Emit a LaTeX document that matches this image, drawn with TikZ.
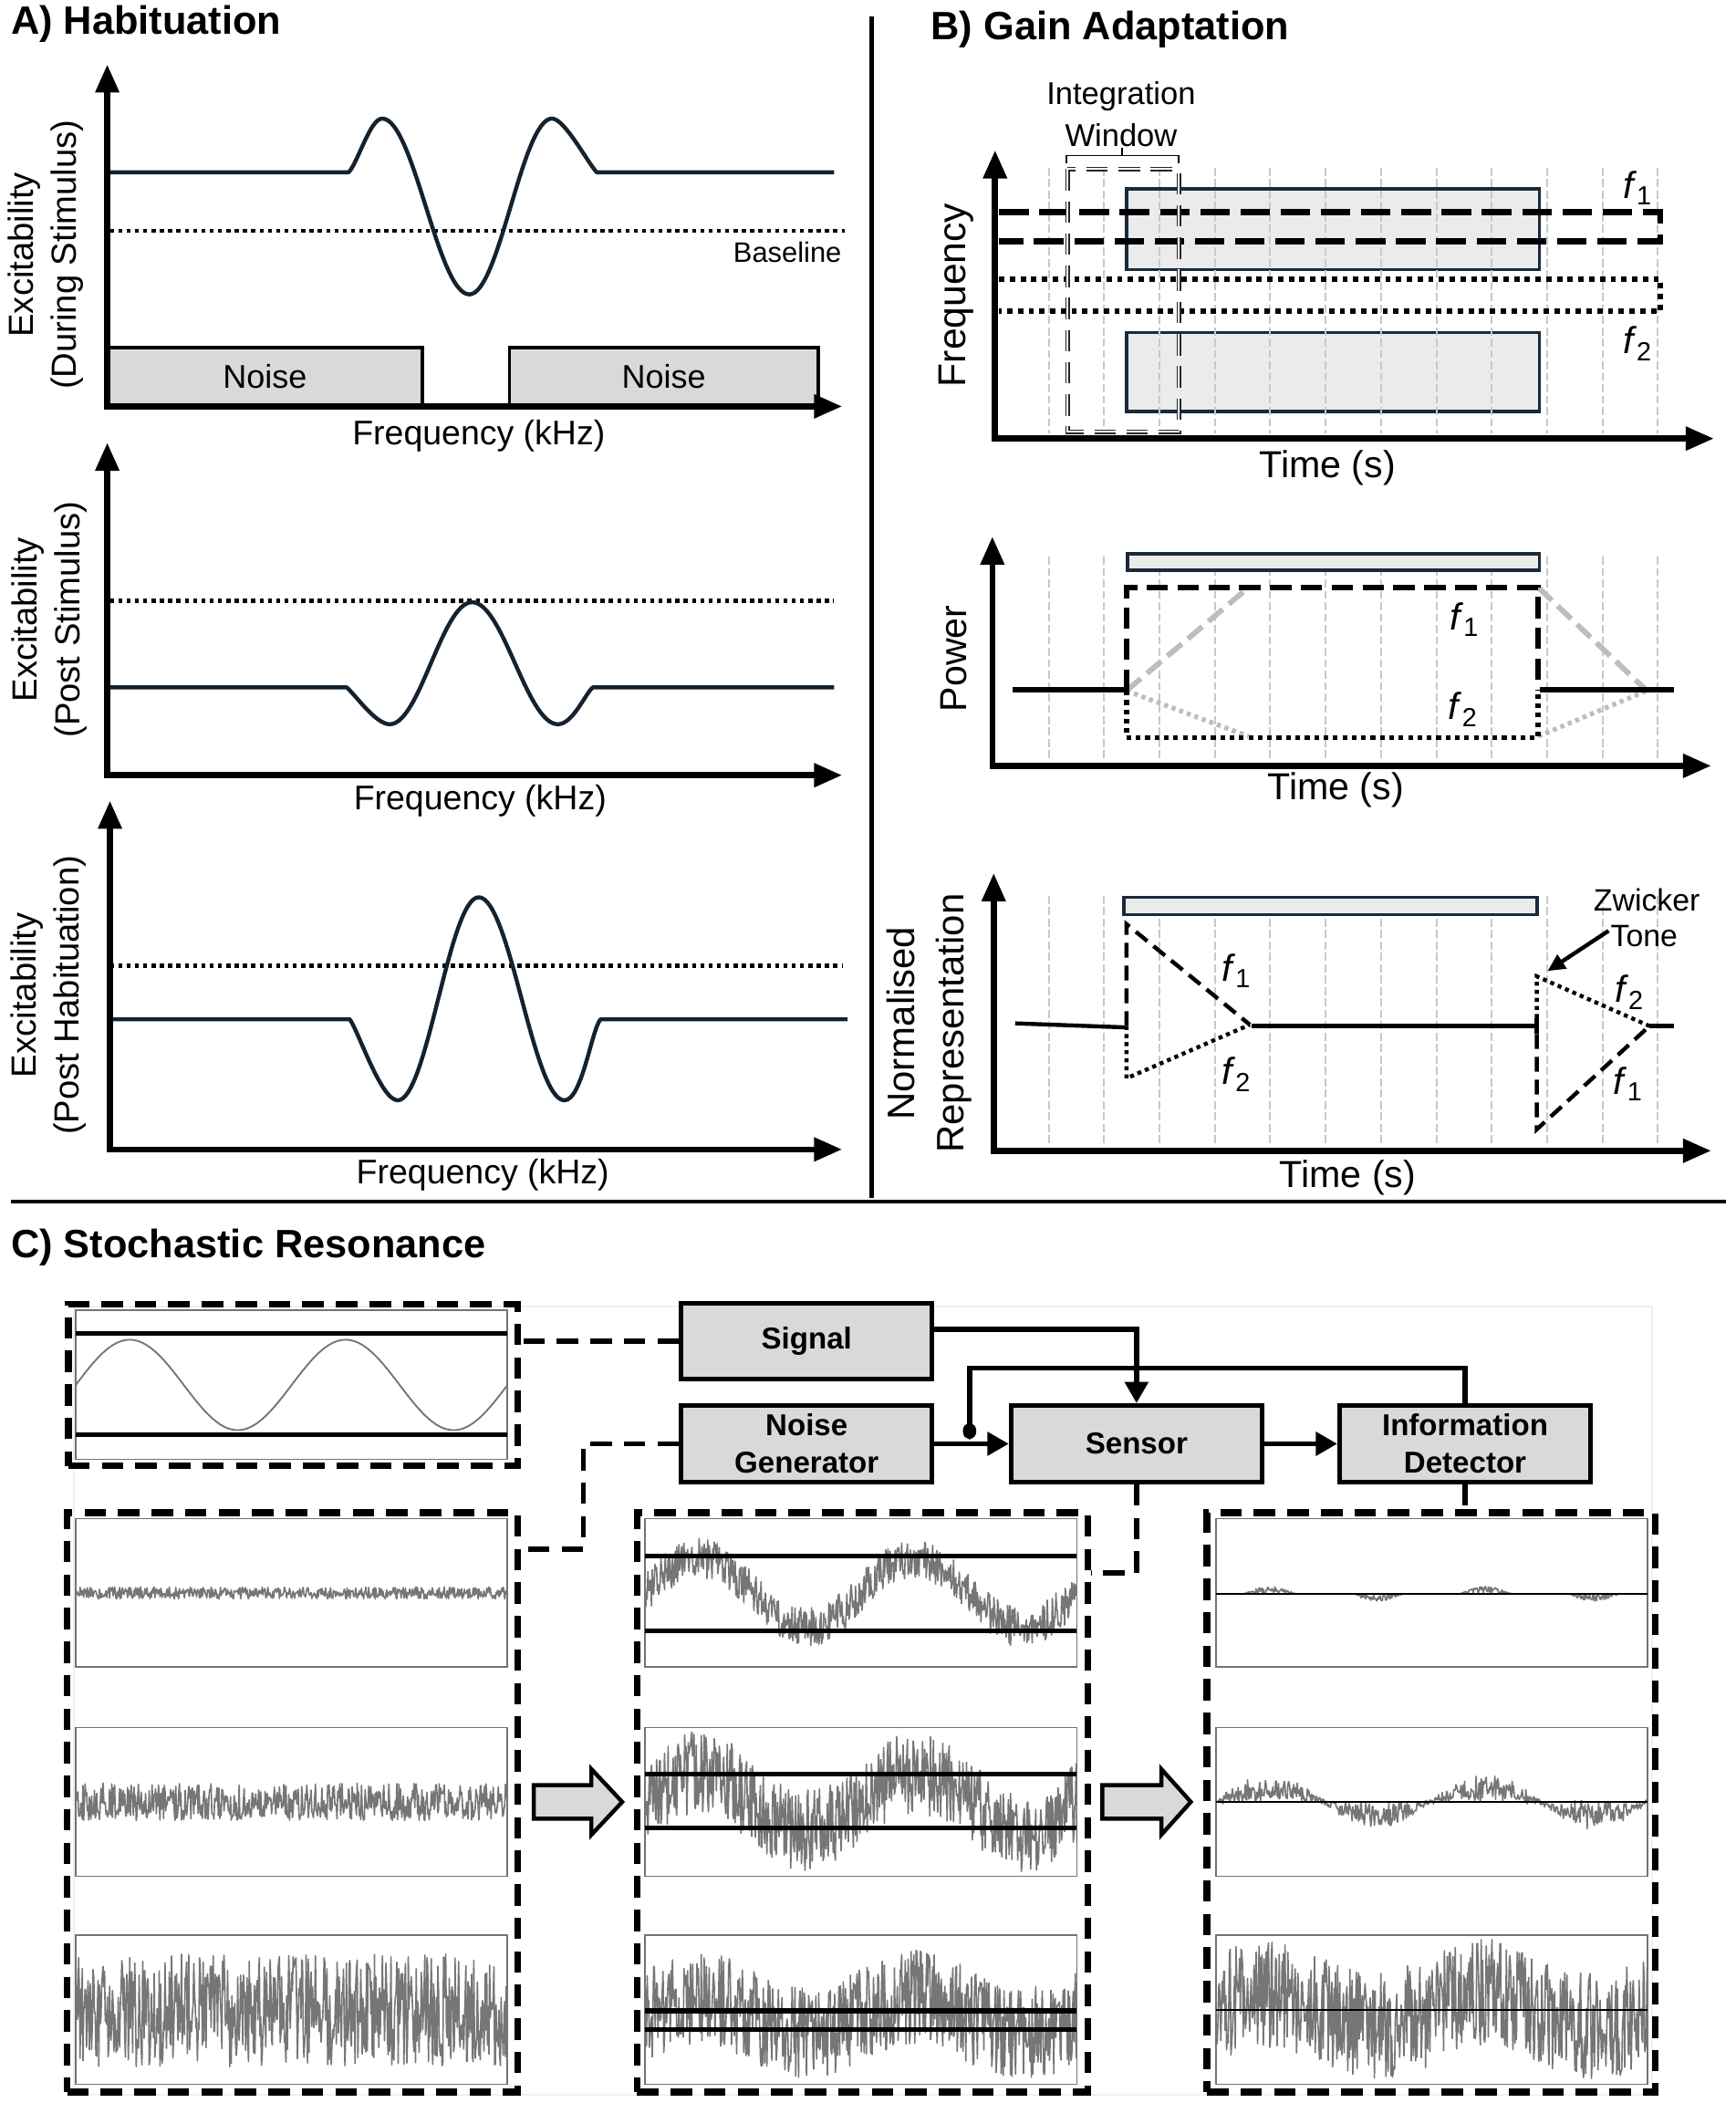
\documentclass[tikz,border=0pt]{standalone}
\usepackage{fontspec}
\setmainfont{Liberation Sans}
\usetikzlibrary{arrows.meta,calc}
\definecolor{curvecol}{HTML}{142230}
\definecolor{bedge}{HTML}{1B2A3A}
\definecolor{bfill}{HTML}{EBEBEB}
\definecolor{nfill}{HTML}{D9D9D9}
\definecolor{gridcol}{HTML}{C8C8C8}
\definecolor{lgray}{HTML}{BDBDBD}
\definecolor{trace}{HTML}{767676}
\newcommand{\fz}[2]{\fontsize{#1}{#2}\selectfont}
\newcommand{\fl}[1]{\textit{f}\textsubscript{#1}}
\begin{document}
\begin{tikzpicture}[x=1pt,y=-1pt,
 declare function={sw(\t)=sin(2.23602*(\t));},
 axarrow/.style={line width=4.5pt, -{Triangle[length=21pt,width=17pt]}},
 curveA/.style={line width=3pt, draw=curvecol, line join=round},
 dotbase/.style={line width=3pt, dash pattern=on 3pt off 3.2pt},
 ylab/.style={rotate=90, align=center, font=\fz{26}{32}},
 xlab/.style={font=\fz{25.5}{30}},
 blab/.style={font=\fz{28}{36}},
 noisebox/.style={draw=black, line width=2.5pt, fill=nfill, inner sep=0pt, font=\fz{24.5}{28}},
 ttl/.style={anchor=west, font=\fz{29.5}{34}\bfseries, inner sep=0pt},
 gridln/.style={draw=gridcol, line width=1.4pt, dash pattern=on 6pt off 2.5pt},
 bbox/.style={draw=bedge, line width=2.5pt, fill=bfill},
 bdash/.style={line width=4.5pt, dash pattern=on 22pt off 8pt},
 bdot/.style={line width=4pt, dash pattern=on 4pt off 4pt},
 mdash/.style={line width=4pt, dash pattern=on 16pt off 7pt},
 mdot/.style={line width=4pt, dash pattern=on 3.5pt off 3.5pt},
 gdash/.style={draw=lgray, line width=4pt, dash pattern=on 14pt off 6pt},
 gdot/.style={draw=lgray, line width=3.5pt, dash pattern=on 3pt off 3pt},
 sdash/.style={line width=3pt, dash pattern=on 11pt off 6pt},
 sdot/.style={line width=3pt, dash pattern=on 3pt off 3pt},
 solidb/.style={line width=4pt},
 flab/.style={font=\fz{28}{32}},
 smalltxt/.style={font=\fz{23.5}{30}, align=center},
 cbox/.style={draw=black, line width=3.5pt, fill=nfill, align=center, inner sep=0pt, font=\fz{22.5}{28}\bfseries},
 dbox/.style={draw=black, line width=5pt, dash pattern=on 16pt off 9pt, inner sep=0pt},
 dconn/.style={line width=4pt, dash pattern=on 16pt off 9pt},
 conn/.style={line width=4pt},
 tipc/.style={-{Triangle[length=16pt,width=17pt]}},
 inrect/.style={draw=black!55, line width=1.2pt},
 thr/.style={line width=3.5pt},
 thrthin/.style={line width=1.6pt},
 tr/.style={draw=trace, line width=1.1pt, line join=round},
 barrow/.style={draw=black, line width=3pt, fill=nfill, line join=miter}
]
\useasboundingbox (0,0) rectangle (1294,1568);

% ---------------- dividers and titles
\draw[line width=3pt] (650,12) -- (650,893);
\draw[line width=3pt] (8,896) -- (1287,896);
\node[ttl] (tA) at (8,18) {A) Habituation};
\node[ttl] (tB) at (694,22) {B) Gain Adaptation};
\node[ttl] (tC) at (8,930) {C) Stochastic Resonance};

% ---------------- A1
\node[noisebox, minimum width=235, minimum height=44] (noiseL) at (197.5,281) {Noise};
\node[noisebox, minimum width=230, minimum height=44] (noiseR) at (495,281) {Noise};
\draw[dotbase] (82,172) -- (630,172);
\node[anchor=east, font=\fz{21}{24}] (basel) at (631,188) {Baseline};
\draw[curveA] (80,128.5) -- (260,128.5)
  .. controls (267,121) and (276,88.4) .. (285,88.4)
  .. controls (308.6,88.4) and (326.4,219.5) .. (350,219.5)
  .. controls (372.4,219.5) and (389.2,88.4) .. (411.6,88.4)
  .. controls (421,88.4) and (438,121) .. (445,128.5) -- (622,128.5);
\draw[axarrow] (80,303) -- (80,48);
\draw[axarrow] (77.75,303) -- (628,303);
\node[ylab] (yA1) at (34,190) {Excitability\\(During Stimulus)};
\node[xlab] (xA1) at (357,325) {Frequency (kHz)};

% ---------------- A2
\draw[dotbase] (82,448) -- (622,448);
\draw[curveA] (80,512.5) -- (258.5,512.5)
  .. controls (265,518) and (280,540) .. (290.7,540)
  .. controls (313,540) and (329.7,449) .. (352,449)
  .. controls (375.3,449) and (392.7,540) .. (416,540)
  .. controls (427,540) and (436,518) .. (442,512.5) -- (622,512.5);
\draw[axarrow] (80,578) -- (80,330);
\draw[axarrow] (77.75,578) -- (628,578);
\node[ylab] (yA2) at (37,462) {Excitability\\(Post Stimulus)};
\node[xlab] (xA2) at (358,597) {Frequency (kHz)};

% ---------------- A3
\draw[dotbase] (82,720) -- (628,720);
\draw[curveA] (82,760) -- (260.8,760)
  .. controls (267,768) and (284,820.4) .. (296.6,820.4)
  .. controls (318.6,820.4) and (335,669) .. (357,669)
  .. controls (380.3,669) and (397.6,820.4) .. (420.9,820.4)
  .. controls (434,820.4) and (441,768) .. (447.8,760) -- (632,760);
\draw[axarrow] (82,857) -- (82,597);
\draw[axarrow] (79.75,857) -- (628,857);
\node[ylab] (yA3) at (36,742) {Excitability\\(Post Habituation)};
\node[xlab] (xA3) at (360,876) {Frequency (kHz)};

% ---------------- B1
\draw[bbox] (840,141) rectangle (1148,201);
\draw[bbox] (840,248) rectangle (1148,307);
\foreach \k in {0,...,11} \draw[gridln] ({782+41.3*\k},125) -- ({782+41.3*\k},323);
\draw[bdash] (745,158) -- (1238,158) -- (1238,180) -- (745,180);
\draw[bdot] (745,208) -- (1238,208) -- (1238,232) -- (745,232);
\draw[draw=black!85, line width=1.1pt, double=white, double distance=1.2pt, dash pattern=on 16pt off 8pt] (796,126) rectangle (879,322);
\draw[line width=1.3pt] (795,122) -- (795,116) -- (879,116) -- (879,122);
\draw[line width=1.3pt] (837,116) -- (837,110);
\node[smalltxt] (intg) at (836,72) {Integration};
\node[smalltxt] (wind) at (836,101) {Window};
\node[flab] (f1a) at (1221,140) {\fl{1}};
\node[flab] (f2a) at (1221,256) {\fl{2}};
\draw[axarrow] (742,327) -- (742,112);
\draw[axarrow] (739.75,327) -- (1278,327);
\node[blab, rotate=90, font=\fz{29}{34}] (yB1) at (713,220) {Frequency};
\node[blab] (xB1) at (990,349) {Time (s)};

% ---------------- B2
\foreach \k in {0,...,11} \draw[gridln] ({782+41.3*\k},415) -- ({782+41.3*\k},565);
\draw[gdash] (840,515) -- (931,438);
\draw[gdash] (1147,438) -- (1228,515);
\draw[gdot] (840,515) -- (931,549);
\draw[gdot] (1147,549) -- (1228,515);
\draw[mdash] (840,515) -- (840,438) -- (1147,438) -- (1147,515);
\draw[mdot] (840,515) -- (840,550) -- (1147,550) -- (1147,515);
\draw[solidb] (755,514) -- (838,514);
\draw[solidb] (1148,514) -- (1248,514);
\draw[bbox] (841,413) rectangle (1148,425);
\node[flab] (f1b) at (1092,462) {\fl{1}};
\node[flab] (f2b) at (1091,529) {\fl{2}};
\draw[axarrow] (740,571) -- (740,400);
\draw[axarrow] (737.75,571) -- (1276,571);
\node[blab, rotate=90] (yB2) at (711,491) {Power};
\node[blab] (xB2) at (996,589) {Time (s)};

% ---------------- B3
\foreach \k in {0,...,11} \draw[gridln] ({782+41.3*\k},668) -- ({782+41.3*\k},854);
\draw[bbox] (838,669) rectangle (1146,682);
\draw[line width=3pt] (757,763) -- (839,766);
\draw[line width=3pt] (933,765) -- (1146,765);
\draw[line width=3pt] (1146,759) -- (1146,771);
\draw[line width=3pt] (1230,765) -- (1248,765);
\draw[sdash] (840,765) -- (840,689) -- (932,764);
\draw[sdot] (840,765) -- (840,804) -- (932,764);
\draw[sdash] (1146,771) -- (1146,842) -- (1230,765);
\draw[sdot] (1146,759) -- (1146,728) -- (1230,765);
\node[flab] (f1c) at (922,724) {\fl{1}};
\node[flab] (f2c) at (922,801) {\fl{2}};
\node[flab] (f2d) at (1215,740) {\fl{2}};
\node[flab] (f1d) at (1214,808) {\fl{1}};
\node[font=\fz{23}{27}] (zw) at (1228,671) {Zwicker};
\node[font=\fz{23}{27}] (tone) at (1226,698) {Tone};
\coordinate (ztip) at (1154,724);
\draw[line width=3pt, -{Triangle[length=13pt,width=12pt]}] ([xshift=2pt,yshift=4pt]tone.west) -- (ztip);
\draw[axarrow] (741,858) -- (741,651);
\draw[axarrow] (738.75,858) -- (1276,858);
\node[ylab, font=\fz{28.5}{37}] (yB3) at (693,763) {Normalised\\Representation};
\node[blab] (xB3) at (1005,878) {Time (s)};

% ---------------- C
\draw[gray!12, line width=1pt] (55,974) rectangle (1232,1562);

% top-left signal box
\node[dbox, minimum width=335, minimum height=120.5] (sigbox) at (218.5,1032.75) {};
\draw[inrect] (56.5,977) rectangle (378,1088);
\draw[tr, line width=1.3pt, domain=56.5:378, samples=200] plot (\x, {1032.6-33.7*sw(\x-56.5)});
\draw[thr] (56.5,994.4) -- (378,994.4);
\draw[thr] (56.5,1069.7) -- (378,1069.7);

% block diagram
\node[cbox, minimum width=187, minimum height=56] (signal) at (601.5,1000) {Signal};
\node[cbox, minimum width=187, minimum height=57] (noisegen) at (601.5,1076.5) {Noise\\Generator};
\node[cbox, minimum width=187, minimum height=57] (sensor) at (847.5,1076.5) {Sensor};
\node[cbox, minimum width=187, minimum height=57] (detector) at (1092.5,1076.5) {Information\\Detector};

\draw[conn, tipc] ([yshift=9pt]signal.east) -| (sensor.north);
\draw[conn, tipc] (noisegen.east) -- (sensor.west);
\draw[conn, tipc] (sensor.east) -- (detector.west);
\coordinate (fbk) at (723,1020);
\coordinate (fbdot) at (723,1073);
\draw[conn, -{Circle[length=12pt,width=10pt]}] (detector.north) |- (fbk) -- (fbdot);

% big dashed boxes
\node[dbox, minimum width=336, minimum height=432] (leftbox) at (218,1343.85) {};
\node[dbox, minimum width=336, minimum height=432] (midbox) at (643,1343.85) {};
\node[dbox, minimum width=334.5, minimum height=432] (rightbox) at (1067.25,1343.85) {};

% dashed connectors
\draw[dconn] (signal.west) -- (signal.west -| sigbox.east);
\coordinate (nk) at (435,1155);
\draw[dconn] (noisegen.west) -| (nk) -- (nk -| leftbox.east);
\coordinate (mk) at (847.5,1173);
\draw[dconn] (sensor.south) -- (mk) -- (mk -| midbox.east);
\draw[dconn] (detector.south) -- (detector.south |- rightbox.north);

% inner rectangles
\foreach \xa/\xb in {56.5/378, 481/803, 906.6/1228.7} {
  \draw[inrect] (\xa,1132.3) rectangle (\xb,1243);
  \draw[inrect] (\xa,1288) rectangle (\xb,1399);
  \draw[inrect] (\xa,1443) rectangle (\xb,1554);
}

\pgfmathsetseed{4242}
% left column: noise only
\draw[tr, domain=56.5:378, samples=600] plot (\x, {1187.7+4.5*rand});
\draw[tr, domain=56.5:378, samples=600] plot (\x, {1343.5+14*rand});
\draw[tr, domain=56.5:378, samples=600] plot (\x, {1499+42*rand});

% middle column: signal + noise
\draw[tr, domain=481:803, samples=600] plot (\x, {1187.7-26*sw(\x-481)+15*rand});
\draw[tr, domain=481:803, samples=600] plot (\x, {1343.5-22*sw(\x-481)+31*rand});
\draw[tr, domain=481:803, samples=600] plot (\x, {1503-14*sw(\x-481)+35*rand});
\draw[thr] (481,1160.3) -- (803,1160.3);
\draw[thr] (481,1216) -- (803,1216);
\draw[thr] (481,1322.7) -- (803,1322.7);
\draw[thr] (481,1362.9) -- (803,1362.9);
\draw[thr] (481,1499.3) -- (803,1499.3);
\draw[thr] (481,1513) -- (803,1513);

% right column: detector output
\draw[tr, domain=906.6:1228.7, samples=600] plot (\x, {1188.3-sw(\x-906.6)*max(0,abs(sw(\x-906.6))-0.72)*20*rnd});
\draw[tr, domain=906.6:1228.7, samples=600] plot (\x, {1343.5-sw(\x-906.6)*(19*rnd)+2*rand});
\draw[tr, domain=906.6:1228.7, samples=600] plot (\x, {1498.7-12*sw(\x-906.6)+41*rand});
\draw[thrthin] (906.6,1188.3) -- (1228.7,1188.3);
\draw[thrthin] (906.6,1343.5) -- (1228.7,1343.5);
\draw[thrthin] (906.6,1498.7) -- (1228.7,1498.7);

% block arrows
\draw[barrow] (398,1331) -- (441,1331) -- (441,1319) -- (464,1343.5) -- (441,1368) -- (441,1356) -- (398,1356) -- cycle;
\draw[barrow] (822,1331) -- (866,1331) -- (866,1319) -- (888,1343.5) -- (866,1368) -- (866,1356) -- (822,1356) -- cycle;

\end{tikzpicture}
\end{document}
